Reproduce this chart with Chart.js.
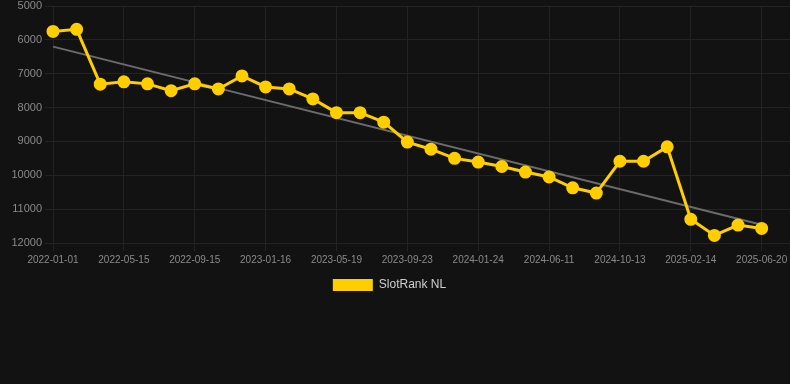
<!DOCTYPE html>
<html>
<head>
<meta charset="utf-8">
<script src="https://cdn.jsdelivr.net/npm/chart.js@4/dist/chart.umd.min.js"></script>
<style>
  html, body { margin: 0; padding: 0; background: #121212; }
  #wrap { position: relative; width: 790px; height: 301px; }
</style>
</head>
<body>
<div id="wrap"><canvas id="c"></canvas></div>
<script>
// Categories (every third date is visible on the axis)
const categories = [
  "2022-01-01","2022-02-14","2022-03-31","2022-05-15","2022-06-15","2022-08-15",
  "2022-09-15","2022-10-31","2022-12-15","2023-01-16","2023-02-28","2023-04-08",
  "2023-05-19","2023-07-01","2023-08-12","2023-09-23","2023-11-03","2023-12-14",
  "2024-01-24","2024-03-10","2024-04-25","2024-06-11","2024-07-22","2024-09-01",
  "2024-10-13","2024-11-23","2025-01-03","2025-02-14","2025-03-28","2025-05-09",
  "2025-06-20"
];
const seriesName = "SlotRank NL";
const rankValues = [
  5750, 5690, 7310, 7240, 7300, 7500, 7300, 7450, 7065, 7390, 7450, 7745,
  8150, 8150, 8430, 9020, 9230, 9500, 9610, 9740, 9905, 10050, 10370, 10525,
  9585, 9585, 9160, 11300, 11775, 11470, 11570
];
const trendStart = 6200;
const trendEnd = 11460;
const yTicks = [5000, 6000, 7000, 8000, 9000, 10000, 11000, 12000];

const lastIdx = categories.length - 1;
const labelStep = 3;
const FONT = 'Liberation Sans, Arial, sans-serif';

const legendShift = {
  id: 'legendShift',
  afterLayout(chart) { if (chart.legend) chart.legend.right -= 11; }
};

const ctx = document.getElementById('c');
new Chart(ctx, {
  type: 'line',
  data: {
    datasets: [
      {
        label: seriesName,
        data: rankValues.map((v, i) => ({ x: i, y: v })),
        borderColor: '#FFCE00',
        backgroundColor: '#FFCE00',
        borderWidth: 3,
        pointRadius: 5,
        pointHoverRadius: 6,
        pointBackgroundColor: '#FFCE00',
        pointBorderColor: '#FFCE00',
        tension: 0,
        clip: false,
        order: 1
      },
      {
        label: 'trend',
        data: [{ x: 0, y: trendStart }, { x: lastIdx, y: trendEnd }],
        borderColor: '#6b6b6b',
        borderWidth: 2,
        pointRadius: 0,
        tension: 0,
        clip: false,
        order: 2
      }
    ]
  },
  plugins: [legendShift],
  options: {
    responsive: true,
    maintainAspectRatio: false,
    animation: false,
    layout: { autoPadding: false, padding: 0 },
    scales: {
      x: {
        type: 'linear',
        min: 0,
        max: lastIdx + 1.2,
        afterBuildTicks: (scale) => {
          const t = [];
          for (let i = 0; i <= lastIdx; i += labelStep) t.push({ value: i });
          scale.ticks = t;
        },
        afterFit: (scale) => { scale.paddingRight = 0; },
        ticks: {
          autoSkip: false,
          maxRotation: 0,
          color: '#8a8a8a',
          font: { family: FONT, size: 10 },
          callback: (v) => categories[v] ?? ''
        },
        grid: { color: '#232323', tickLength: 8 },
        border: { color: '#232323' }
      },
      y: {
        reverse: true,
        min: yTicks[0],
        max: yTicks[yTicks.length - 1],
        afterBuildTicks: (scale) => { scale.ticks = yTicks.map(v => ({ value: v })); },
        afterFit: (scale) => { scale.paddingTop = 6; scale.width = 53; },
        ticks: {
          color: '#8a8a8a',
          font: { family: FONT, size: 11 },
          callback: (v) => String(v)
        },
        grid: { color: '#232323', tickLength: 8 },
        border: { color: '#232323' }
      }
    },
    plugins: {
      legend: {
        position: 'bottom',
        labels: {
          color: '#d0d0d0',
          boxWidth: 40,
          boxHeight: 12,
          font: { family: FONT, size: 12 },
          filter: (item) => item.text !== 'trend',
          generateLabels: (chart) => {
            const items = Chart.defaults.plugins.legend.labels.generateLabels(chart);
            items.forEach(it => { it.lineWidth = 0; });
            return items;
          }
        }
      },
      tooltip: { enabled: false }
    }
  }
});
</script>
</body>
</html>
